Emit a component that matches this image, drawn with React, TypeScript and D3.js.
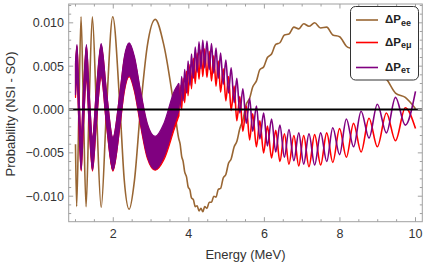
import React from "react";
import * as d3 from "d3";

const W = 427;
const H = 264;

// axis ticks
const xTickValues = [2, 4, 6, 8, 10];
const xTickLabels = ["2", "4", "6", "8", "10"];
const yTickValues = [-0.01, -0.005, 0, 0.005, 0.01];
const yTickLabels = ["\u22120.010", "\u22120.005", "0.000", "0.005", "0.010"];

// legend
const legendNames = ["ee", "e\u03bc", "e\u03c4"];
const colors = ["#996633", "#ff0000", "#800080"];

// unresolved fast-oscillation band (E < 3.75): envelopes
const bandE = [1.0, 1.04, 1.09, 1.15, 1.21, 1.29, 1.36, 1.45, 1.55, 1.68, 1.82, 1.99, 2.18, 2.29, 2.42, 2.56, 2.72, 2.9, 3.11, 3.34, 3.62, 3.73];
const purpleHi = [0.0055, 0.0075, 0.0021, -0.0032, 0.0021, 0.0075, 0.0021, -0.0032, 0.0021, 0.0076, 0.0021, -0.0032, 0.0021, 0.006, 0.0077, 0.0061, 0.0022, -0.0016, -0.0031, -0.0016, 0.0022, 0.003];
const purpleLo = [0.0017, 0.0037, -0.0017, -0.007, -0.0017, 0.0037, -0.0017, -0.007, -0.0017, 0.0038, -0.0017, -0.007, -0.0017, 0.0022, 0.0039, 0.0023, -0.0016, -0.0054, -0.0069, -0.0054, -0.0016, -0.0002];
const redHi = [0.0052, 0.0073, 0.002, -0.0033, 0.002, 0.0073, 0.002, -0.0033, 0.002, 0.0074, 0.002, -0.0033, 0.002, 0.0058, 0.0075, 0.0059, 0.002, -0.0018, -0.0032, -0.002, 0.0016, 0.0024];
const redLo = [0.0014, 0.0036, -0.0018, -0.0071, -0.0018, 0.0036, -0.0018, -0.0071, -0.0018, 0.0037, -0.0018, -0.0071, -0.0018, 0.002, 0.0038, 0.0021, -0.0018, -0.0056, -0.007, -0.0058, -0.0022, -0.0008];

// resolved oscillations (E >= 3.73): extremes
const fastE = [3.73, 3.77, 3.81, 3.85, 3.89, 3.94, 3.98, 4.03, 4.07, 4.12,
  4.17, 4.22, 4.27, 4.32, 4.37, 4.42, 4.48, 4.54, 4.6, 4.66,
  4.72, 4.78, 4.84, 4.91, 4.98, 5.05, 5.12, 5.2, 5.27, 5.35,
  5.43, 5.52, 5.61, 5.69, 5.79, 5.88, 5.98, 6.08, 6.19, 6.3,
  6.41, 6.53, 6.65, 6.78, 6.91, 7.04, 7.18, 7.33, 7.49, 7.65,
  7.81, 7.99, 8.17, 8.36, 8.56, 8.77, 8.99, 9.23, 9.47, 9.73,
  10.0];
const purpleV = [0.003, 0.0002, 0.0038, 0.001, 0.0046, 0.0019, 0.0056, 0.0028, 0.0064, 0.0036,
  0.0072, 0.0043, 0.0078, 0.0047, 0.008, 0.0048, 0.0079, 0.0046, 0.0076, 0.0042,
  0.0071, 0.0036, 0.0065, 0.0029, 0.0057, 0.0019, 0.0048, 0.0008, 0.0036, -0.0004,
  0.0024, -0.0016, 0.0013, -0.0025, 0.0004, -0.0034, -0.0004, -0.0042, -0.0011, -0.0049,
  -0.0018, -0.0055, -0.0023, -0.0059, -0.0027, -0.0063, -0.0028, -0.0064, -0.0027, -0.006,
  -0.0021, -0.0052, -0.0011, -0.0043, -0.0002, -0.0033, 0.0006, -0.0027, 0.0014, -0.0018,
  0.0021];
const redV = [-0.0008, 0.0028, 0.0, 0.0036, 0.0008, 0.0044, 0.0016, 0.0052, 0.0024, 0.0059,
  0.003, 0.0065, 0.0035, 0.0069, 0.0038, 0.007, 0.0037, 0.0067, 0.0033, 0.0062,
  0.0027, 0.0056, 0.002, 0.0047, 0.001, 0.0038, -0.0001, 0.0027, -0.0013, 0.0015,
  -0.0025, 0.0004, -0.0035, -0.0005, -0.0043, -0.0013, -0.005, -0.0019, -0.0056, -0.0024,
  -0.006, -0.0028, -0.0063, -0.003, -0.0065, -0.003, -0.0066, -0.0029, -0.0064, -0.0027,
  -0.0061, -0.0022, -0.0055, -0.0016, -0.0049, -0.001, -0.0043, -0.0004, -0.0036, 0.0002,
  -0.0022];

// ΔPee
const brownE = [1.0, 1.03, 1.09, 1.147, 1.21, 1.28, 1.358, 1.446, 1.554, 1.68, 1.82, 1.986, 2.18, 2.29, 2.42, 2.56, 2.72, 2.9, 3.11, 3.34, 3.62,
  3.73, 3.77, 3.81, 3.85, 3.89, 3.94, 3.98, 4.03, 4.07, 4.12,
  4.17, 4.22, 4.27, 4.32, 4.37, 4.42, 4.48, 4.54, 4.6, 4.66,
  4.72, 4.78, 4.84, 4.91, 4.98, 5.05, 5.12, 5.2, 5.27, 5.35,
  5.43, 5.52, 5.61, 5.69, 5.79, 5.88, 5.98, 6.08, 6.19, 6.3,
  6.41, 6.53, 6.65, 6.78, 6.91, 7.04, 7.18, 7.33, 7.49, 7.65,
  7.81, 7.99, 8.17, 8.36, 8.56, 8.77, 8.99, 9.23, 9.47, 9.73,
  10.0];
const brownV = [-0.004, -0.0112, 0.0, 0.0107, 0.0, -0.0112, 0.0, 0.0107, 0.0, -0.0113, 0.0, 0.0107, 0.0, -0.0081, -0.0115, -0.0082, 0.0, 0.0073, 0.0104, 0.0074, 0.0,
  -0.0033, -0.004, -0.0054, -0.006, -0.0072, -0.0078, -0.0089, -0.0093, -0.0102, -0.0104,
  -0.0112, -0.0111, -0.0117, -0.0114, -0.0118, -0.0112, -0.0114, -0.0107, -0.0107, -0.01,
  -0.0101, -0.0092, -0.0091, -0.0079, -0.0075, -0.0062, -0.0057, -0.0043, -0.0037, -0.0022,
  -0.0012, 0.0006, 0.0013, 0.0026, 0.0033, 0.0046, 0.0049, 0.006, 0.0064, 0.0075,
  0.0077, 0.0086, 0.0087, 0.0095, 0.0093, 0.0099, 0.0096, 0.01, 0.0094, 0.0095,
  0.0086, 0.0084, 0.0073, 0.0069, 0.0057, 0.0054, 0.0041, 0.0035, 0.0019, 0.0014,
  0.0001];

const FONT = "'Liberation Sans', Arial, Helvetica, sans-serif";
const FRAME = "#a0a0a0";

export default function App() {
  const L = 68.7, R = 422.3, T = 4, B = 221.7;
  const x = d3.scaleLinear().domain([0.82, 10.18]).range([L, R]);
  const y = d3.scaleLinear().domain([-0.01294, 0.01217]).range([B, T]);

  const line = d3.line<[number, number]>().x(d => x(d[0])).y(d => y(d[1])).curve(d3.curveMonotoneX);
  const zip = (a: number[], b: number[]) => a.map((v, i) => [v, b[i]] as [number, number]);

  const bandPath = (lo: number[], hi: number[]) =>
    d3.area<number>().x((_, i) => x(bandE[i])).curve(d3.curveMonotoneX)
      .y0((_, i) => y(lo[i])).y1((_, i) => y(hi[i]))(bandE) || "";

  const purpleBand = bandPath(purpleLo, purpleHi);
  const redBand = bandPath(redLo, redHi);

  const brownPath = line(zip(brownE, brownV)) || "";
  const redPath = line(zip(fastE, redV)) || "";
  const purplePath = line(zip(fastE, purpleV)) || "";

  const xMinor = d3.range(1, 10.01, 0.5).filter(v => !xTickValues.includes(v));
  const yMinor = d3.range(-12, 12.5, 1).map(v => v / 1000).filter(v => Math.abs(Math.round(v * 1000)) % 5 !== 0);

  const sw = 1.6;

  return (
    <svg width={W} height={H} style={{ position: "absolute", left: 0, top: 0, background: "#fff" }} fontFamily={FONT}>
      <defs>
        <clipPath id="plotclip">
          <rect x={L} y={T} width={R - L} height={B - T} />
        </clipPath>
      </defs>
      <g clipPath="url(#plotclip)">
        <path d={brownPath} fill="none" stroke={colors[0]} strokeWidth={sw} strokeLinejoin="round" />
        <path d={redBand} fill={colors[1]} stroke={colors[1]} strokeWidth={1.2} strokeLinejoin="round" />
        <path d={redPath} fill="none" stroke={colors[1]} strokeWidth={sw} strokeLinejoin="round" />
        <path d={purpleBand} fill={colors[2]} stroke={colors[2]} strokeWidth={1.2} strokeLinejoin="round" />
        <path d={purplePath} fill="none" stroke={colors[2]} strokeWidth={sw} strokeLinejoin="round" />
        <line x1={L} x2={R} y1={y(0)} y2={y(0)} stroke="#000" strokeWidth={2} />
      </g>
      <rect x={L} y={T} width={R - L} height={B - T} fill="none" stroke={FRAME} strokeWidth={1} />
      {xTickValues.map(v => (
        <g key={"xt" + v}>
          <line x1={x(v)} x2={x(v)} y1={B} y2={B - 4.5} stroke={FRAME} />
          <line x1={x(v)} x2={x(v)} y1={T} y2={T + 4.5} stroke={FRAME} />
        </g>
      ))}
      {xMinor.map(v => (
        <g key={"xm" + v}>
          <line x1={x(v)} x2={x(v)} y1={B} y2={B - 2.5} stroke={FRAME} />
          <line x1={x(v)} x2={x(v)} y1={T} y2={T + 2.5} stroke={FRAME} />
        </g>
      ))}
      {yTickValues.map(v => (
        <g key={"yt" + v}>
          <line x1={L} x2={L + 4.5} y1={y(v)} y2={y(v)} stroke={FRAME} />
          <line x1={R} x2={R - 4.5} y1={y(v)} y2={y(v)} stroke={FRAME} />
        </g>
      ))}
      {yMinor.map(v => (
        <g key={"ym" + v}>
          <line x1={L} x2={L + 2.5} y1={y(v)} y2={y(v)} stroke={FRAME} />
          <line x1={R} x2={R - 2.5} y1={y(v)} y2={y(v)} stroke={FRAME} />
        </g>
      ))}
      {xTickValues.map((v, i) => (
        <text key={"xl" + v} x={x(v)} y={238} textAnchor="middle" fontSize={12.5} fill="#333">{xTickLabels[i]}</text>
      ))}
      {yTickValues.map((v, i) => (
        <text key={"yl" + v} x={64} y={y(v) + 4.5} textAnchor="end" fontSize={12.5} fill="#333">{yTickLabels[i]}</text>
      ))}
      <text x={245.5} y={259} textAnchor="middle" fontSize={13} fill="#333">Energy (MeV)</text>
      <text transform={`translate(15,114) rotate(-90)`} textAnchor="middle" fontSize={13} fill="#333">Probability (NSI - SO)</text>
      <rect x={350.5} y={6.5} width={68} height={73.5} rx={5} ry={5} fill="#fff" stroke="#333" strokeWidth={1} />
      {legendNames.map((n, i) => {
        const ly = [20, 42.5, 67.5][i];
        return (
          <g key={"lg" + i}>
            <line x1={356} x2={378} y1={ly} y2={ly} stroke={colors[i]} strokeWidth={sw} />
            <text x={385} y={ly + 3} fontSize={11.5} fontWeight="bold" fill="#222">
              {"\u0394P"}
              <tspan fontSize={9} dy={2.5}>{n}</tspan>
            </text>
          </g>
        );
      })}
    </svg>
  );
}
